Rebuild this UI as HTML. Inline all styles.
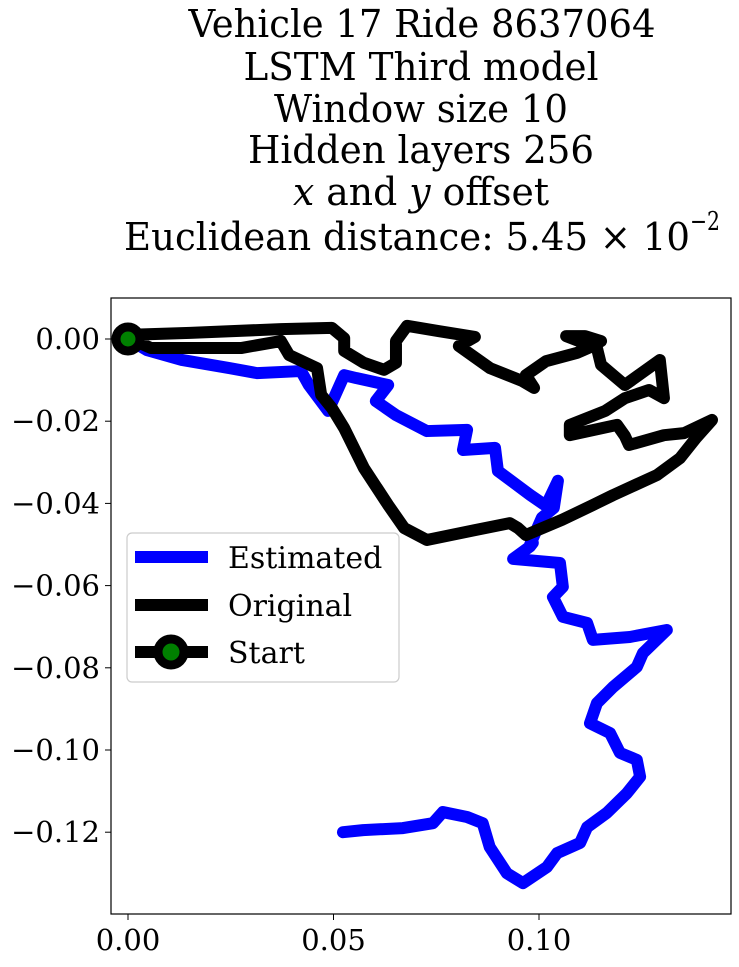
<!DOCTYPE html>
<html><head><meta charset="utf-8"><style>
body{margin:0;background:#fff}
svg text{font-family:"DejaVu Serif","Liberation Serif",serif;fill:#000}
</style></head><body>
<svg id="chart" width="739" height="962" viewBox="0 0 739 962" xmlns="http://www.w3.org/2000/svg">
<g font-size="38" text-anchor="middle">
<text x="422" y="37" textLength="467" lengthAdjust="spacingAndGlyphs">Vehicle 17 Ride 8637064</text>
<text x="421" y="80" textLength="355" lengthAdjust="spacingAndGlyphs">LSTM Third model</text>
<text x="421" y="122" textLength="294" lengthAdjust="spacingAndGlyphs">Window size 10</text>
<text x="421" y="163" textLength="346" lengthAdjust="spacingAndGlyphs">Hidden layers 256</text>
<text x="421" y="205" textLength="256" lengthAdjust="spacingAndGlyphs"><tspan font-style="italic">x</tspan> and <tspan font-style="italic">y</tspan> offset</text>
<text x="124" y="250" text-anchor="start" textLength="566" lengthAdjust="spacingAndGlyphs">Euclidean distance: 5.45 × 10</text>
<text x="690" y="230" font-size="26" text-anchor="start" textLength="30" lengthAdjust="spacingAndGlyphs">−2</text>
</g>
<rect x="111" y="298" width="620" height="616" fill="#fff" stroke="#000" stroke-width="1.2"/>
<g id="axes"></g>
<g id="series"></g>
<g>
<rect x="127" y="533" width="272" height="149" rx="5" fill="#fff" fill-opacity="0.8" stroke="#ccc" stroke-width="1.2"/>
<line x1="135" y1="557" x2="208" y2="557" stroke="#0000ff" stroke-width="12"/>
<text x="228" y="568" font-size="30">Estimated</text>
<line x1="135" y1="605" x2="208" y2="605" stroke="#000" stroke-width="12"/>
<text x="228" y="616" font-size="30">Original</text>
<line x1="135" y1="652" x2="208" y2="652" stroke="#000" stroke-width="12"/>
<circle cx="171" cy="652" r="13" fill="#008000" stroke="#000" stroke-width="9"/>
<text x="228" y="663" font-size="30">Start</text>
</g>
</svg>
<script>
const xTicks=[0,0.05,0.10];
const xTickLabels=["0.00","0.05","0.10"];
const yTicks=[0,-0.02,-0.04,-0.06,-0.08,-0.10,-0.12];
const yTickLabels=["0.00","\u22120.02","\u22120.04","\u22120.06","\u22120.08","\u22120.10","\u22120.12"];
const estX=[0,0.0046,0.0131,0.0248,0.0314,0.0421,0.0440,0.0487,0.0526,0.0555,0.0633,0.0603,0.0652,0.0727,0.0825,0.0815,0.0893,0.0900,0.0978,0.1017,0.1046,0.1036,0.1007,0.0978,0.0985,0.0978,0.0937,0.1051,0.1058,0.1034,0.1058,0.1117,0.1131,0.1221,0.1311,0.1253,0.1238,0.1180,0.1141,0.1124,0.1173,0.1197,0.1238,0.1246,0.1214,0.1165,0.1117,0.1100,0.1044,0.1019,0.0961,0.0922,0.0880,0.0863,0.0825,0.0766,0.0742,0.0669,0.0572,0.0523];
const estY=[0,-0.0027,-0.0051,-0.0071,-0.0083,-0.0078,-0.0112,-0.0175,-0.0088,-0.0095,-0.0112,-0.0151,-0.0185,-0.0224,-0.0221,-0.0270,-0.0265,-0.0321,-0.0379,-0.0406,-0.0345,-0.0411,-0.0435,-0.0501,-0.0496,-0.0505,-0.0535,-0.0545,-0.0603,-0.0628,-0.0676,-0.0691,-0.0732,-0.0725,-0.0708,-0.0764,-0.0798,-0.0847,-0.0886,-0.0935,-0.0959,-0.1007,-0.1024,-0.1065,-0.1105,-0.1153,-0.1188,-0.1226,-0.1251,-0.1285,-0.1324,-0.1300,-0.1236,-0.1178,-0.1163,-0.1151,-0.1178,-0.1190,-0.1195,-0.1200];
const origX=[0,0.0017,0.0056,0.0275,0.0372,0.0392,0.0460,0.0470,0.0496,0.0526,0.0574,0.0633,0.0672,0.0727,0.0844,0.0929,0.0949,0.0968,0.1056,0.1131,0.1180,0.1287,0.1343,0.1382,0.1421,0.1353,0.1304,0.1219,0.1209,0.1190,0.1075,0.1075,0.1161,0.1209,0.1268,0.1304,0.1294,0.1209,0.1151,0.1141,0.1066,0.1112,0.1151,0.1131,0.1092,0.1017,0.0968,0.0988,0.0959,0.0881,0.0805,0.0844,0.0757,0.0679,0.0652,0.0652,0.0623,0.0574,0.0526,0.0526,0.0496,0.0372,0.0151,0];
const origY=[0,-0.0005,-0.0022,-0.0022,-0.0005,-0.0039,-0.0071,-0.0136,-0.0168,-0.0217,-0.0314,-0.0404,-0.0460,-0.0489,-0.0465,-0.0448,-0.0460,-0.0477,-0.0440,-0.0404,-0.0380,-0.0331,-0.0290,-0.0241,-0.0197,-0.0229,-0.0234,-0.0258,-0.0236,-0.0209,-0.0234,-0.0209,-0.0175,-0.0144,-0.0124,-0.0144,-0.0051,-0.0112,-0.0063,-0.0022,0.0007,0.0007,-0.0005,-0.0017,-0.0034,-0.0054,-0.0088,-0.0119,-0.0102,-0.0071,-0.0017,0.0005,0.0019,0.0032,-0.0005,-0.0058,-0.0075,-0.0058,-0.0029,0.0002,0.0027,0.0024,0.0015,0.0010];
const NS="http://www.w3.org/2000/svg";
const X0=128,Y0=339,S=4110;
function sx(v){return X0+v*S;}
function sy(v){return Y0-v*S;}
const axes=document.getElementById('axes');
xTicks.forEach((t,i)=>{
 const l=document.createElementNS(NS,'line');
 l.setAttribute('x1',sx(t));l.setAttribute('x2',sx(t));l.setAttribute('y1',914);l.setAttribute('y2',920);l.setAttribute('stroke','#000');
 
 
 axes.appendChild(l);
 const tx=document.createElementNS(NS,'text');
 tx.setAttribute('x',sx(t));tx.setAttribute('y',950);tx.setAttribute('text-anchor','middle');tx.setAttribute('font-size','29');
 tx.textContent=xTickLabels[i];
 
 
 axes.appendChild(tx);
});
yTicks.forEach((t,i)=>{
 const l=document.createElementNS(NS,'line');
 l.setAttribute('x1',105);l.setAttribute('x2',111);l.setAttribute('y1',sy(t));l.setAttribute('y2',sy(t));l.setAttribute('stroke','#000');
 
 
 axes.appendChild(l);
 const tx=document.createElementNS(NS,'text');
 tx.setAttribute('x',100);tx.setAttribute('y',sy(t)+10);tx.setAttribute('text-anchor','end');tx.setAttribute('font-size','29');
 tx.textContent=yTickLabels[i];
 
 
 axes.appendChild(tx);
});
const ser=document.getElementById('series');
function poly(xs,ys,color,name){
 const p=document.createElementNS(NS,'polyline');
 p.setAttribute('points',xs.map((x,i)=>sx(x)+','+sy(ys[i])).join(' '));
 p.setAttribute('fill','none');p.setAttribute('stroke',color);p.setAttribute('stroke-width','12');
 p.setAttribute('stroke-linejoin','round');p.setAttribute('stroke-linecap','round');
 
 
 ser.appendChild(p);
}
poly(estX,estY,'#0000ff','estimated-line');
poly(origX,origY,'#000000','original-line');
const c=document.createElementNS(NS,'circle');
c.setAttribute('cx',sx(0));c.setAttribute('cy',sy(0));c.setAttribute('r',12);
c.setAttribute('fill','#008000');c.setAttribute('stroke','#000');c.setAttribute('stroke-width','9');


ser.appendChild(c);
</script>
</body></html>
